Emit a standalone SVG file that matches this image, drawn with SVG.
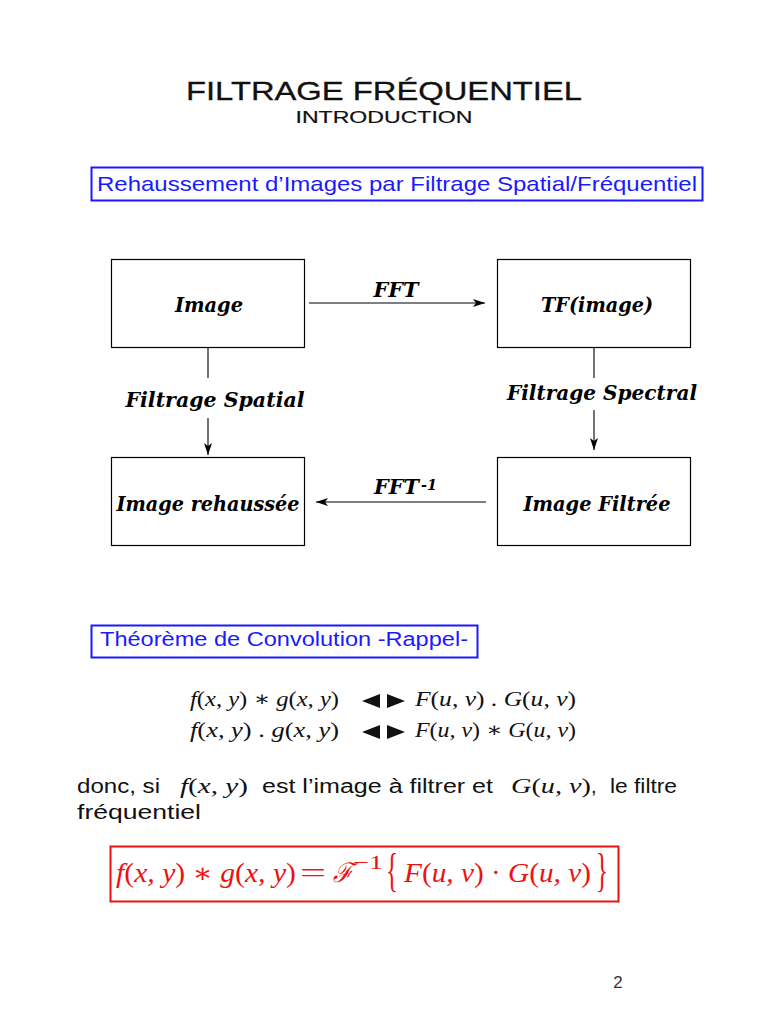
<svg xmlns="http://www.w3.org/2000/svg" width="768" height="1024" viewBox="0 0 768 1024">
<style>
.sans{font-family:"Liberation Sans","DejaVu Sans",sans-serif;}
.lbl{font-family:"DejaVu Serif","Liberation Serif",serif;font-weight:bold;font-style:italic;font-size:21px;fill:#000;}
.box{fill:none;stroke:#000;stroke-width:1.2;}
.con{fill:none;stroke:#000;stroke-width:1.1;}
.m{font-family:"Liberation Serif","DejaVu Serif",serif;font-size:21px;}
.i{font-style:italic;}
</style>
<defs>
<marker id="ah" viewBox="0 0 12 8" refX="12" refY="4" markerWidth="12" markerHeight="8" markerUnits="userSpaceOnUse" orient="auto">
<path d="M0,0 L12,4 L0,8 L3,4 Z" fill="#000"/>
</marker>
</defs>
<rect width="768" height="1024" fill="#fff"/>

<text class="sans" x="384" y="100" style="font-size:26px" text-anchor="middle" textLength="396" lengthAdjust="spacingAndGlyphs" fill="#111" stroke="#111" stroke-width="0.3">FILTRAGE FRÉQUENTIEL</text>
<text class="sans" x="384" y="123" style="font-size:17px" text-anchor="middle" textLength="177" lengthAdjust="spacingAndGlyphs" fill="#111" stroke="#111" stroke-width="0.2">INTRODUCTION</text>

<g id="heading1">
<rect x="91.5" y="167.5" width="611" height="33" fill="none" stroke="#1a1aff" stroke-width="2"/>
<text class="sans" x="97" y="191" style="font-size:21px" fill="#1a1aff" textLength="600" lengthAdjust="spacingAndGlyphs">Rehaussement d’Images par Filtrage Spatial/Fréquentiel</text>
</g>

<g id="n-image">
<rect class="box" x="111.5" y="259.5" width="193" height="88"/>
<text class="lbl" x="209" y="312" text-anchor="middle" textLength="68" lengthAdjust="spacingAndGlyphs">Image</text>
</g>
<g id="n-tf">
<rect class="box" x="497.5" y="259.5" width="193" height="88"/>
<text class="lbl" x="597" y="312" text-anchor="middle" textLength="112" lengthAdjust="spacingAndGlyphs">TF(image)</text>
</g>
<g id="n-rehaussee">
<rect class="box" x="111.5" y="457.5" width="193" height="88"/>
<text class="lbl" x="208" y="511" text-anchor="middle" textLength="183" lengthAdjust="spacingAndGlyphs">Image rehaussée</text>
</g>
<g id="n-filtree">
<rect class="box" x="497.5" y="457.5" width="193" height="88"/>
<text class="lbl" x="597" y="511" text-anchor="middle" textLength="147" lengthAdjust="spacingAndGlyphs">Image Filtrée</text>
</g>

<g id="connectors">
<line class="con" x1="309" y1="303" x2="485" y2="303" marker-end="url(#ah)"/>
<text class="lbl" x="396" y="297" text-anchor="middle" textLength="45" lengthAdjust="spacingAndGlyphs">FFT</text>

<line class="con" x1="208" y1="347" x2="208" y2="378"/>
<line class="con" x1="208" y1="418" x2="208" y2="455" marker-end="url(#ah)"/>
<text class="lbl" x="215" y="407" text-anchor="middle" textLength="179" lengthAdjust="spacingAndGlyphs">Filtrage Spatial</text>

<line class="con" x1="594" y1="347" x2="594" y2="378"/>
<line class="con" x1="594" y1="410" x2="594" y2="450" marker-end="url(#ah)"/>
<text class="lbl" x="602" y="400" text-anchor="middle" textLength="190" lengthAdjust="spacingAndGlyphs">Filtrage Spectral</text>

<line class="con" x1="486" y1="502" x2="316" y2="502" marker-end="url(#ah)"/>
<text class="lbl" x="374" y="494" textLength="45" lengthAdjust="spacingAndGlyphs">FFT</text>
<text class="lbl" x="421" y="490" style="font-size:14px" textLength="16" lengthAdjust="spacingAndGlyphs">-1</text>
</g>

<g id="heading2">
<rect x="91.5" y="625.5" width="386" height="32" fill="none" stroke="#1a1aff" stroke-width="2"/>
<text class="sans" x="100" y="646" style="font-size:20px" fill="#1a1aff" textLength="368" lengthAdjust="spacingAndGlyphs">Théorème de Convolution -Rappel-</text>
</g>

<g id="eqs" class="m" fill="#111">
<text x="190" y="706" textLength="149" lengthAdjust="spacingAndGlyphs"><tspan class="i">f</tspan>(<tspan class="i">x, y</tspan>) ∗ <tspan class="i">g</tspan>(<tspan class="i">x, y</tspan>)</text>
<path d="M362,701 L380,694 L380,708 Z M387,694 L405,701 L387,708 Z" fill="#111"/>
<text x="415" y="706" textLength="161" lengthAdjust="spacingAndGlyphs"><tspan class="i">F</tspan>(<tspan class="i">u, ν</tspan>) . <tspan class="i">G</tspan>(<tspan class="i">u, ν</tspan>)</text>
<text x="190" y="737" textLength="149" lengthAdjust="spacingAndGlyphs"><tspan class="i">f</tspan>(<tspan class="i">x, y</tspan>) . <tspan class="i">g</tspan>(<tspan class="i">x, y</tspan>)</text>
<path d="M362,732 L380,725 L380,739 Z M387,725 L405,732 L387,739 Z" fill="#111"/>
<text x="415" y="737" textLength="161" lengthAdjust="spacingAndGlyphs"><tspan class="i">F</tspan>(<tspan class="i">u, ν</tspan>) ∗ <tspan class="i">G</tspan>(<tspan class="i">u, ν</tspan>)</text>
</g>

<g id="para" fill="#111">
<text class="sans" x="77" y="793" style="font-size:20px" textLength="83" lengthAdjust="spacingAndGlyphs">donc, si</text>
<text class="m" x="180" y="793" textLength="68" lengthAdjust="spacingAndGlyphs"><tspan class="i">f</tspan>(<tspan class="i">x, y</tspan>)</text>
<text class="sans" x="262" y="793" style="font-size:20px" textLength="231" lengthAdjust="spacingAndGlyphs">est l’image à filtrer et</text>
<text class="m" x="511" y="793" textLength="80" lengthAdjust="spacingAndGlyphs"><tspan class="i">G</tspan>(<tspan class="i">u, ν</tspan>)</text>
<text class="sans" x="591" y="793" style="font-size:20px">,</text>
<text class="sans" x="610" y="793" style="font-size:20px" textLength="67" lengthAdjust="spacingAndGlyphs">le filtre</text>
<text class="sans" x="77" y="819" style="font-size:20px" textLength="124" lengthAdjust="spacingAndGlyphs">fréquentiel</text>
</g>

<g id="result" fill="#ee1111">
<rect x="110.5" y="846.5" width="508" height="55" fill="none" stroke="#ee1111" stroke-width="2"/>
<text class="m" x="116" y="882" style="font-size:27px" textLength="180" lengthAdjust="spacingAndGlyphs"><tspan class="i">f</tspan>(<tspan class="i">x, y</tspan>) ∗ <tspan class="i">g</tspan>(<tspan class="i">x, y</tspan>)</text>
<text class="m" x="300" y="882" style="font-size:27px" textLength="26" lengthAdjust="spacingAndGlyphs">=</text>
<text class="m i" x="333" y="882" style="font-size:27px" textLength="20" lengthAdjust="spacingAndGlyphs">ℱ</text>
<text class="m" x="353" y="869" style="font-size:19px" textLength="30" lengthAdjust="spacingAndGlyphs">−1</text>
<text class="m" x="386" y="886" style="font-size:46px" textLength="12" lengthAdjust="spacingAndGlyphs">{</text>
<text class="m" x="404" y="882" style="font-size:27px" textLength="187" lengthAdjust="spacingAndGlyphs"><tspan class="i">F</tspan>(<tspan class="i">u, ν</tspan>) · <tspan class="i">G</tspan>(<tspan class="i">u, ν</tspan>)</text>
<text class="m" x="596" y="886" style="font-size:46px" textLength="12" lengthAdjust="spacingAndGlyphs">}</text>
</g>

<text class="sans" x="618" y="988" style="font-size:17px" text-anchor="middle" fill="#333">2</text>
</svg>
